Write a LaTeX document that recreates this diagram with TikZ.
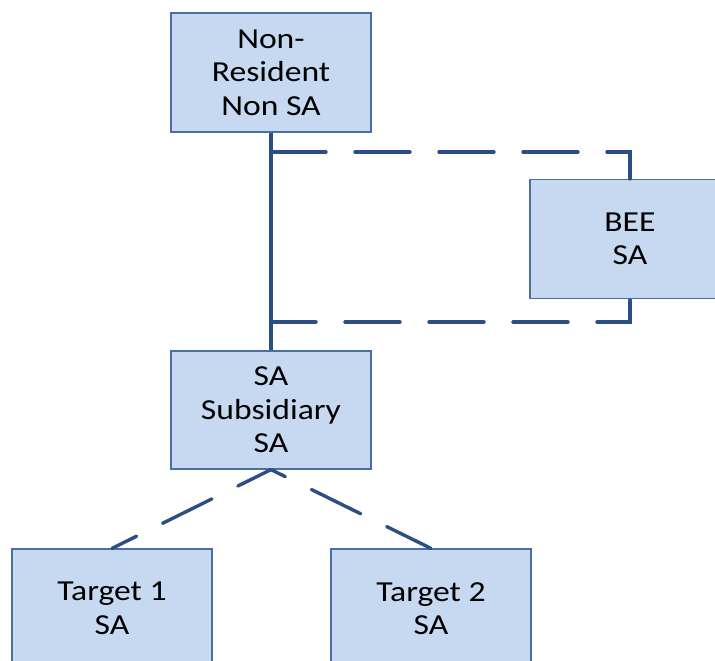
\documentclass[tikz,border=0pt]{standalone}
\usepackage{fontspec}
\setmainfont{Carlito}[FakeStretch=1.16]
\definecolor{boxfill}{HTML}{C6D9F1}
\definecolor{boxline}{HTML}{4A6FA5}
\definecolor{conn}{HTML}{2B4F84}
\begin{document}
\begin{tikzpicture}[x=1pt,y=-1pt,
  entity/.style={draw=boxline,line width=1.2pt,fill=boxfill,minimum width=200pt,minimum height=119pt,inner sep=0pt,align=center,font=\fontsize{29}{33.5}\selectfont,text=black},
  solidlink/.style={draw=conn,line width=3.4pt},
  dashlink/.style={draw=conn,line width=3.4pt,dash pattern=on 55pt off 29pt,line cap=round}]
\useasboundingbox (0,0) rectangle (715,661);
\node[entity] (nr) at (271,72.5) {Non-\\Resident\\Non SA};
\node[entity] (bee) at (630,239) {BEE\\SA};
\node[entity,minimum height=118pt] (sub) at (271,410) {SA\\Subsidiary\\SA};
\node[entity] (t1) at (112,608.5) {Target 1\\SA};
\node[entity] (t2) at (431,608.5) {Target 2\\SA};
\coordinate (j1) at (271,152);
\coordinate (j2) at (271,322);
\draw[solidlink] (nr.south) -- (sub.north);
\draw[dashlink,dash phase=0pt] (j1) -| (bee.north);
\draw[dashlink,dash phase=10pt] (j2) -| (bee.south);
\draw[dashlink,dash phase=18pt] (sub.south) -- (t1.north);
\draw[dashlink,dash phase=39pt] (sub.south) -- (t2.north);
\end{tikzpicture}
\end{document}
